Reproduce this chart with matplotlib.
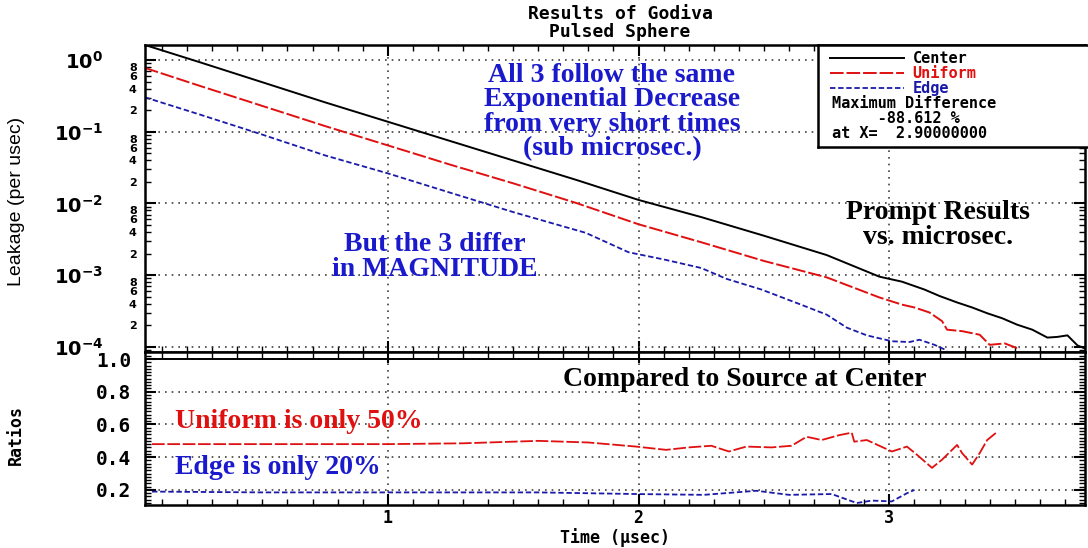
import numpy as np
import matplotlib
matplotlib.use('Agg')
from matplotlib import pyplot as plt
from matplotlib import ticker

# --- leakage vs time ---
t_center = [0.032, 0.25, 0.5, 0.75, 1.0, 1.25, 1.5, 1.75, 2.0, 2.25, 2.5, 2.75, 2.96, 3.05,
            3.14, 3.2, 3.27, 3.33, 3.39, 3.45, 3.51, 3.57, 3.63, 3.67, 3.71, 3.75, 3.78]
leak_center = [1.62, 0.933, 0.490, 0.257, 0.138, 0.0741, 0.0398, 0.0214, 0.0112, 0.00646,
               0.00355, 0.00191, 9.55e-4, 8.13e-4, 6.31e-4, 5.13e-4, 4.17e-4, 3.55e-4,
               2.95e-4, 2.51e-4, 2.04e-4, 1.74e-4, 1.35e-4, 1.38e-4, 1.45e-4, 1.05e-4, 9.5e-5]

t_uniform = [0.032, 0.25, 0.5, 0.75, 1.0, 1.25, 1.5, 1.75, 2.0, 2.25, 2.5, 2.75, 2.96, 3.05,
             3.1, 3.16, 3.21, 3.23, 3.29, 3.36, 3.40, 3.46, 3.52]
leak_uniform = [0.776, 0.437, 0.229, 0.120, 0.0646, 0.0347, 0.0191, 0.0102, 0.00513, 0.00288,
                0.00158, 9.33e-4, 4.90e-4, 3.89e-4, 3.55e-4, 3.02e-4, 2.29e-4, 1.74e-4,
                1.66e-4, 1.48e-4, 1.07e-4, 1.12e-4, 9.3e-5]

t_edge = [0.032, 0.25, 0.5, 0.75, 1.0, 1.25, 1.5, 1.79, 1.96, 2.1, 2.25, 2.35, 2.49, 2.64,
          2.75, 2.83, 2.91, 3.01, 3.08, 3.12, 3.18, 3.23]
leak_edge = [0.302, 0.174, 0.0912, 0.0468, 0.0263, 0.0141, 0.00759, 0.00389, 0.00209, 0.00166,
             0.00126, 8.91e-4, 6.31e-4, 3.98e-4, 2.82e-4, 1.86e-4, 1.45e-4, 1.20e-4, 1.17e-4,
             1.26e-4, 1.07e-4, 8.9e-5]

# --- ratios to center ---
t_ratio_c = [0.06, 3.78]
ratio_c = [1.0, 1.0]
t_ratio_u = [0.06, 0.5, 1.0, 1.3, 1.5, 1.6, 1.8, 1.99, 2.11, 2.2, 2.29, 2.36, 2.43, 2.53, 2.61,
             2.67, 2.73, 2.80, 2.85, 2.86, 2.91, 2.96, 3.01, 3.07, 3.11, 3.17, 3.21, 3.27, 3.29,
             3.33, 3.36, 3.39, 3.43]
ratio_u = [0.48, 0.48, 0.48, 0.485, 0.495, 0.50, 0.49, 0.465, 0.445, 0.46, 0.47, 0.435, 0.465,
           0.46, 0.47, 0.525, 0.505, 0.535, 0.55, 0.495, 0.505, 0.47, 0.435, 0.465, 0.415, 0.335,
           0.385, 0.475, 0.425, 0.355, 0.425, 0.505, 0.555]
t_ratio_e = [0.06, 0.5, 1.0, 1.5, 1.6, 1.99, 2.26, 2.47, 2.6, 2.77, 2.87, 2.93, 3.01, 3.07, 3.10]
ratio_e = [0.19, 0.185, 0.185, 0.185, 0.185, 0.175, 0.17, 0.195, 0.17, 0.175, 0.12, 0.135,
           0.13, 0.18, 0.20]

W, H = 1088, 548
def fx(px):
    return px / W
def fy(py):
    return 1 - py / H

mono = dict(family='DejaVu Sans Mono', weight='bold')
serif = dict(family='Liberation Serif', weight='bold')
grid_kw = dict(color='0.25', linestyle=(0, (1, 3)), linewidth=1.2)

fig = plt.figure(figsize=(W / 100, H / 100), dpi=100)
ax1 = fig.add_axes([fx(145), fy(352), fx(940), 307 / H])
ax2 = fig.add_axes([fx(145), fy(505), fx(940), 153 / H], sharex=ax1)

l_c, = ax1.plot(t_center, leak_center, color='black', lw=1.4, label='Center')
l_u, = ax1.plot(t_uniform, leak_uniform, color='#e01010', lw=1.4, ls=(0, (7, 1.5)), label='Uniform')
l_e, = ax1.plot(t_edge, leak_edge, color='#1a1aaa', lw=1.3, ls=(0, (3, 1.5)), label='Edge')
ax1.set_yscale('log')
ax1.set_xlim(0.032, 3.78)
ax1.set_ylim(8.5e-5, 1.62)

ax1.yaxis.set_major_locator(ticker.LogLocator(base=10, numticks=10))
ax1.yaxis.set_minor_locator(ticker.LogLocator(base=10, subs=np.arange(2, 10), numticks=10))
def minor_fmt(v, pos):
    m = int(round(v / 10 ** np.floor(np.log10(v) + 1e-9)))
    return str(m) if m in (2, 4, 6, 8) else ''
ax1.yaxis.set_minor_formatter(ticker.FuncFormatter(minor_fmt))
ax1.tick_params(axis='y', which='major', pad=30, labelsize=14)
ax1.tick_params(axis='y', which='minor', pad=6, labelsize=8)
for lab in ax1.get_yticklabels(which='both'):
    lab.set_fontweight('bold')

ax2.plot(t_ratio_c, ratio_c, color='black', lw=1.4)
ax2.plot(t_ratio_u, ratio_u, color='#e01010', lw=1.3, ls=(0, (7, 1.5)))
ax2.plot(t_ratio_e, ratio_e, color='#1a1aaa', lw=1.3, ls=(0, (3, 1.5)))
ax2.set_ylim(0.108, 1.043)
ax2.set_yticks([0.2, 0.4, 0.6, 0.8, 1.0])
ax2.yaxis.set_major_formatter(ticker.FormatStrFormatter('%.1f'))
ax2.yaxis.set_minor_locator(ticker.MultipleLocator(0.02))
ax2.set_xticks([1, 2, 3])
ax2.xaxis.set_minor_locator(ticker.MultipleLocator(0.1))
ax2.tick_params(axis='y', which='major', pad=10)
ax2.tick_params(axis='x', which='major', pad=3)

for ax in (ax1, ax2):
    ax.tick_params(axis='both', which='both', direction='in', top=True, right=True, color='black')
    ax.tick_params(which='major', length=8, width=1.5)
    ax.tick_params(which='minor', length=4, width=1.0)
    for s in ax.spines.values():
        s.set_linewidth(1.8)
    ax.grid(True, which='major', **grid_kw)
ax1.tick_params(axis='x', labelbottom=False)
for lab in ax2.get_yticklabels():
    lab.set_fontfamily('DejaVu Sans Mono')
    lab.set_fontweight('bold')
    lab.set_fontsize(14)
for lab in ax2.get_xticklabels():
    lab.set_fontfamily('DejaVu Sans Mono')
    lab.set_fontweight('bold')
    lab.set_fontsize(12)

ax1.set_ylabel('Leakage (per usec)', fontsize=14, family='Liberation Sans')
ax1.yaxis.set_label_coords(-0.128, 0.49)
ax2.set_ylabel('Ratios', fontsize=12, **mono)
ax2.yaxis.set_label_coords(-0.128, 0.46)
ax2.set_xlabel('Time (μsec)', fontsize=12, **mono)
ax2.xaxis.set_label_coords(0.5, -0.15)

fig.text(fx(620), fy(23), 'Results of Godiva\nPulsed Sphere', ha='center', va='center',
         fontsize=13, linespacing=0.95, **mono)

# legend box
box = fig.add_axes([fx(818), fy(147), fx(272), 102 / H])
box.set_xticks([])
box.set_yticks([])
for s in box.spines.values():
    s.set_linewidth(1.8)
box.legend(handles=[l_c, l_u, l_e], loc='upper left', bbox_to_anchor=(0.0, 1.06), frameon=False,
           prop=dict(family='DejaVu Sans Mono', weight='bold', size=11), handlelength=4.8,
           handletextpad=0.6, labelspacing=0.0, labelcolor='linecolor', borderpad=0.3)
box.text(0.05, 0.43, 'Maximum Difference', transform=box.transAxes, va='center', fontsize=11, **mono)
box.text(0.05, 0.28, '     -88.612 %', transform=box.transAxes, va='center', fontsize=11, **mono)
box.text(0.05, 0.13, 'at X=  2.90000000', transform=box.transAxes, va='center', fontsize=11, **mono)

# annotations
blue = '#1a1acc'
fig.text(fx(612), fy(112), 'All 3 follow the same\nExponential Decrease\nfrom very short times\n(sub microsec.)',
         ha='center', va='center', color=blue, fontsize=20, linespacing=0.98, **serif)
fig.text(fx(435), fy(257), 'But the 3 differ\nin MAGNITUDE', ha='center', va='center', color=blue,
         fontsize=20, linespacing=0.98, **serif)
fig.text(fx(938), fy(225), 'Prompt Results\nvs. microsec.', ha='center', va='center', color='black',
         fontsize=20, linespacing=0.98, **serif)
fig.text(fx(745), fy(380), 'Compared to Source at Center', ha='center', va='center', color='black',
         fontsize=20, **serif)
fig.text(fx(175), fy(421), 'Uniform is only 50%', ha='left', va='center', color='#e01010',
         fontsize=20, **serif)
fig.text(fx(175), fy(468), 'Edge is only 20%', ha='left', va='center', color=blue,
         fontsize=20, **serif)

plt.savefig('out.png', dpi=100)
